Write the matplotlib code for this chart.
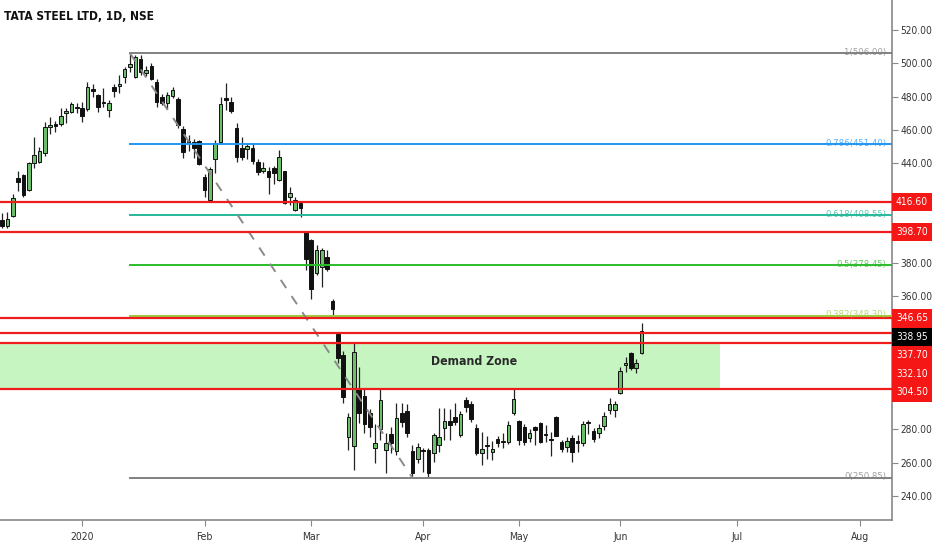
import numpy as np
import matplotlib
matplotlib.use("Agg")
import matplotlib.pyplot as plt
from matplotlib.patches import Rectangle

plt.rcParams['font.family'] = ['DejaVu Sans']
plt.rcParams['font.stretch'] = 'condensed'

# daily candles, bar index 0 = first trading day of 2020
first_bar = -15
opens = [405.8, 402.2, 408.0, 431.0, 433.0, 424.0, 440.0, 440.7, 446.0, 461.7,
         463.5, 463.5, 470.2, 470.7, 473.2, 473.0, 472.5, 484.5, 481.0, 476.7,
         472.0, 485.7, 486.3, 491.8, 497.8, 491.8, 502.6, 494.2, 498.4, 488.8,
         480.0, 476.0, 480.4, 478.5, 460.5, 453.3, 452.7, 453.3, 431.7, 417.8,
         442.5, 452.7, 479.0, 476.7, 461.0, 449.0, 448.5, 449.0, 440.7, 435.3,
         435.3, 437.0, 430.0, 435.3, 419.6, 411.8, 416.0,
         398.6, 393.8, 374.0, 377.6, 383.6, 357.0, 337.3, 324.7, 275.4, 270.0,
         304.9, 300.0, 289.8, 268.8, 280.2, 267.6, 277.2, 267.0, 289.8, 291.0,
         267.0, 262.2, 267.2, 267.6, 265.8, 270.6, 280.8, 285.0, 287.4, 276.6,
         297.6, 295.2, 280.8, 265.8, 270.2, 266.4, 274.2, 272.6, 272.4, 289.8,
         285.0, 281.4, 274.8, 281.4, 283.8, 276.9, 274.2, 287.4, 272.4, 269.4,
         274.8, 272.4, 271.8, 283.6, 279.0, 277.8, 282.0, 291.6, 291.6, 301.8,
         318.7, 325.9, 317.0, 325.9]
highs = [410.0, 410.8, 421.4, 435.3, 433.5, 440.7, 455.7, 449.7, 464.7, 467.7,
         465.5, 473.0, 473.0, 476.7, 476.0, 476.7, 488.7, 487.5, 481.5, 485.0,
         478.0, 487.5, 493.0, 497.8, 506.0, 505.0, 505.0, 498.6, 500.0, 490.6,
         481.7, 482.5, 485.7, 479.5, 462.3, 457.0, 454.5, 454.0, 433.5, 437.7,
         454.0, 479.7, 488.0, 479.7, 464.0, 455.7, 452.0, 452.0, 442.5, 440.7,
         437.5, 438.0, 448.0, 435.5, 425.6, 419.6, 417.0,
         398.8, 394.5, 390.8, 389.0, 387.8, 358.5, 337.8, 327.0, 290.0, 331.9,
         317.5, 305.0, 292.5, 283.2, 304.9, 277.5, 281.5, 295.8, 295.8, 295.5,
         270.5, 271.5, 268.5, 268.5, 277.5, 292.8, 292.8, 292.3, 295.8, 291.0,
         299.4, 297.3, 283.0, 278.4, 276.0, 273.0, 276.0, 278.0, 285.0, 304.9,
         285.8, 283.0, 280.2, 282.0, 284.5, 282.3, 278.4, 288.0, 273.6, 275.4,
         276.6, 276.6, 285.0, 285.6, 280.8, 283.2, 290.4, 298.8, 297.0, 317.5,
         323.5, 326.5, 322.5, 343.9]
lows = [401.0, 401.0, 407.6, 423.0, 419.6, 423.5, 437.0, 440.0, 444.5, 457.5,
        458.5, 462.0, 464.0, 470.0, 470.0, 464.7, 471.5, 480.0, 470.7, 473.5,
        467.7, 479.7, 482.0, 488.0, 495.0, 491.0, 493.0, 492.6, 490.0, 473.7,
        474.8, 472.5, 479.0, 461.0, 443.0, 447.0, 443.0, 439.0, 419.6, 417.2,
        434.0, 451.5, 472.0, 470.0, 440.7, 442.0, 442.5, 439.5, 433.0, 433.8,
        421.4, 427.5, 429.0, 415.4, 415.0, 411.0, 407.6,
        375.8, 358.3, 373.0, 365.6, 375.0, 347.5, 320.0, 296.0, 267.6, 255.6,
        283.8, 277.8, 275.4, 259.8, 273.6, 253.8, 265.5, 264.5, 281.5, 275.5,
        250.85, 259.5, 254.4, 251.2, 260.4, 266.5, 273.6, 273.6, 282.6, 275.5,
        290.5, 284.5, 264.6, 258.6, 262.2, 261.6, 269.4, 268.5, 271.2, 288.6,
        270.6, 270.6, 272.4, 270.6, 271.8, 272.4, 264.0, 276.0, 266.4, 266.4,
        260.4, 266.4, 270.0, 277.2, 272.4, 275.0, 279.6, 289.2, 287.4, 301.0,
        314.5, 315.6, 314.0, 325.0]
closes = [402.2, 406.4, 419.0, 428.7, 421.0, 440.0, 445.0, 447.3, 461.7, 463.0,
          462.0, 468.3, 470.6, 475.5, 472.8, 468.3, 485.7, 483.3, 473.7, 476.2,
          476.0, 483.3, 487.5, 496.6, 499.6, 503.8, 494.8, 496.0, 490.6, 476.7,
          476.0, 481.0, 484.0, 463.0, 446.7, 452.7, 449.0, 439.5, 423.8, 436.5,
          452.0, 475.5, 478.0, 471.3, 443.7, 443.7, 450.3, 441.0, 434.7, 437.0,
          431.7, 434.0, 443.7, 416.0, 422.0, 417.8, 413.0,
          382.4, 364.4, 387.8, 387.8, 376.4, 352.3, 323.0, 299.4, 287.5, 326.5,
          289.8, 283.2, 281.4, 271.8, 297.6, 271.8, 271.8, 286.8, 284.4, 277.8,
          253.8, 269.4, 266.8, 253.8, 276.6, 275.4, 285.0, 282.6, 284.4, 289.2,
          293.4, 286.2, 265.8, 268.2, 269.8, 268.2, 271.8, 272.2, 282.3, 298.2,
          273.6, 272.4, 277.8, 279.6, 272.4, 276.5, 273.4, 276.0, 268.2, 273.0,
          266.4, 272.0, 283.2, 284.0, 274.2, 280.8, 288.0, 295.2, 295.2, 315.0,
          320.0, 316.9, 320.0, 338.95]

month_pos = [0, 23, 43, 64, 82, 101, 123, 146]
month_labels = ["2020", "Feb", "Mar", "Apr", "May", "Jun", "Jul", "Aug"]
price_ticks = np.arange(240, 521, 20)

# fibonacci retracement between the Jan high and the Mar low
fib_start, fib_end = 9, 62
fib_levels = [1, 0.786, 0.618, 0.5, 0.382, 0]
fib_prices = [506.00, 451.40, 408.55, 378.45, 348.30, 250.85]
fib_colors = ["#808080", "#2196f3", "#26b89a", "#2dbb2d", "#9ccc3c", "#808080"]

# support / resistance lines
sr_prices = [416.60, 398.70, 346.65, 337.70, 332.10, 304.50]
last_price = 338.95

zone_low, zone_high = 304.5, 331.5
zone_end = 119.7

fig = plt.figure(figsize=(9.32, 5.5), dpi=100)
ax = fig.add_axes([0, 30 / 550, 892 / 932, 520 / 550])
ax.set_xlim(-15.4, 152.0)
ax.set_ylim(225.5, 538.0)

# demand zone
ax.add_patch(Rectangle((-20, zone_low), zone_end + 20, zone_high - zone_low,
                       facecolor="#c6f5c2", edgecolor="none", zorder=1))
ax.text(73.6, 320.5, "Demand Zone", fontsize=8.8, fontweight="bold",
        color="#2a2a2a", ha="center", va="center", zorder=5)

# candles
x = np.arange(len(opens)) + first_bar
o = np.array(opens)
c = np.array(closes)
up = c >= o
ax.vlines(x, lows, highs, color="#222222", lw=0.9, zorder=2)
body_lo = np.minimum(o, c)
body_h = np.maximum(np.abs(c - o), 0.8)
ax.bar(x[up], body_h[up], bottom=body_lo[up], width=0.68,
       color="#6cbf6a", edgecolor="#111111", linewidth=0.7, zorder=2.1)
ax.bar(x[~up], body_h[~up], bottom=body_lo[~up], width=0.68,
       color="#111111", edgecolor="#111111", linewidth=0.7, zorder=2.1)

# fib lines
ytr = ax.get_yaxis_transform()
for lvl, p, col in zip(fib_levels, fib_prices, fib_colors):
    ax.plot([fib_start, 160], [p, p], color=col, lw=1.4, zorder=3)
    ax.text(886 / 892, p + 0.6, f"{lvl:g}({p:.2f})", transform=ytr,
            ha="right", va="center", fontsize=6.8, color=col, alpha=0.75,
            zorder=4)
ax.plot([fib_start, fib_end], [fib_prices[0], fib_prices[-1]],
        color="#8a8a8a", lw=1.4, ls=(0, (5, 5)), zorder=3)

for p in sr_prices:
    ax.axhline(p, color="#ee1c1c", lw=1.6, zorder=3.2)

# price labels on the scale, pushed apart so they do not overlap
box_h = 11.1
labels = [(p, "#f51616") for p in sr_prices] + [(last_price, "#000000")]
labels.sort(key=lambda t: -t[0])
prev = None
covered = []
for p, col in labels:
    yc = p if prev is None else min(p, prev - box_h)
    prev = yc
    covered.append((yc - box_h / 2 - 2, yc + box_h / 2 + 2))
    ax.add_patch(Rectangle((1.0, yc - box_h / 2), 0.0449, box_h, transform=ytr,
                           facecolor=col, edgecolor="none", clip_on=False,
                           zorder=6))
    ax.text(1.0224, yc, f"{p:.2f}", transform=ytr, ha="center", va="center",
            fontsize=7.3, color="white", zorder=7, clip_on=False)

# axes styling
for s in ["top", "left"]:
    ax.spines[s].set_visible(False)
for s in ["right", "bottom"]:
    ax.spines[s].set_color("#888888")
    ax.spines[s].set_linewidth(1.2)
ax.yaxis.tick_right()
ax.set_yticks(price_ticks)
# scale labels hidden behind the price boxes are not shown
ax.set_yticklabels(["" if any(lo <= v <= hi for lo, hi in covered) else f"{v:.2f}"
                    for v in price_ticks])
ax.set_xticks(month_pos)
ax.set_xticklabels(month_labels)
ax.tick_params(axis="y", length=4, width=0.8, color="#888888", pad=2,
               labelsize=7.3, labelcolor="#333333")
ax.tick_params(axis="x", length=4, width=0.8, color="#888888", pad=5,
               labelsize=7.5, labelcolor="#333333")

fig.text(4 / 932, 1 - 17 / 550, "TATA STEEL LTD, 1D, NSE", fontsize=8.6,
         fontweight="bold", color="#111111", va="center", ha="left")

fig.savefig("out.png", dpi=100)
